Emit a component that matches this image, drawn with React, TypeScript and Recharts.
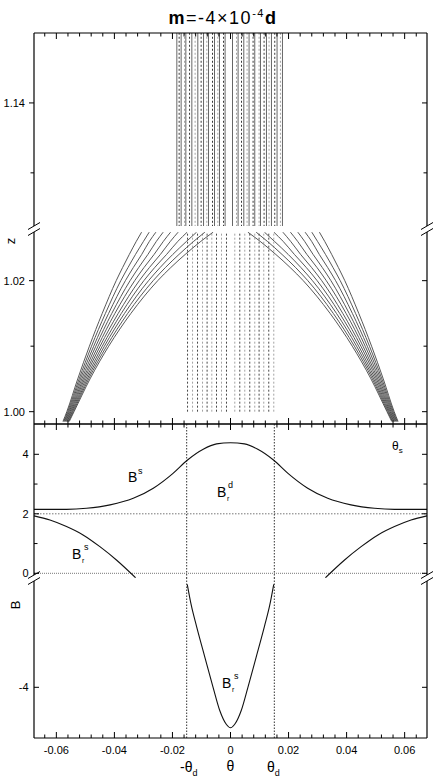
import React from "react";
import { LineChart, Line, XAxis, YAxis, ReferenceLine } from "recharts";

const WIDTH = 436;
const HEIGHT = 778;
const LEFT = 34;
const RIGHT = 427;
const X_AXIS_H = 20;
const FONT = "'Liberation Sans', Arial, Helvetica, sans-serif";

// theta axis (shared by all four stacked pieces)
const THETA_DOMAIN: [number, number] = [-0.0677, 0.0677];
const THETA_TICKS = [
  -0.064, -0.06, -0.056, -0.052, -0.048, -0.044, -0.04, -0.036, -0.032, -0.028, -0.024,
  -0.02, -0.016, -0.012, -0.008, -0.004, 0, 0.004, 0.008, 0.012, 0.016, 0.02, 0.024,
  0.028, 0.032, 0.036, 0.04, 0.044, 0.048, 0.052, 0.056, 0.06, 0.064,
];
const THETA_LABELS = [-0.06, -0.04, -0.02, 0, 0.02, 0.04, 0.06];
const THETA_D = 0.0151;

// z axis, broken in two
const Z_HIGH_DOMAIN: [number, number] = [1.1224, 1.15];
const Z_HIGH_TICKS = [1.13, 1.14];
const Z_HIGH_LABELS = [1.14];
const Z_LOW_DOMAIN: [number, number] = [0.99812, 1.02743];
const Z_LOW_TICKS = [1.0, 1.01, 1.02];
const Z_LOW_LABELS = [1.0, 1.02];

// B axis, broken in two
const B_HIGH_DOMAIN: [number, number] = [-0.158, 5.019];
const B_HIGH_TICKS = [0, 1, 2, 3, 4];
const B_HIGH_LABELS = [0, 2, 4];
const B_LOW_DOMAIN: [number, number] = [-5.704, -0.326];
const B_LOW_TICKS = [-4];
const B_LOW_LABELS = [-4];

// stellar field lines, left half (the right half is its mirror image)
const Z_LEVELS = [0.9985, 1.0, 1.005, 1.01, 1.015, 1.02, 1.022, 1.024, 1.026, 1.0274];
const FIELD_THETA = [
  [-0.05773, -0.05639, -0.05263, -0.04861, -0.0442, -0.03938, -0.03718, -0.03487, -0.03246, -0.03064],
  [-0.05749, -0.05611, -0.05215, -0.04788, -0.0431, -0.0378, -0.03532, -0.03274, -0.02998, -0.02802],
  [-0.05725, -0.05583, -0.0517, -0.04713, -0.042, -0.03621, -0.03349, -0.0306, -0.02795, -0.02571],
  [-0.05701, -0.05556, -0.05122, -0.0464, -0.0409, -0.0346, -0.03164, -0.02847, -0.02554, -0.0232],
  [-0.05676, -0.05528, -0.05074, -0.04565, -0.03983, -0.03301, -0.02981, -0.02633, -0.02313, -0.02065],
  [-0.05652, -0.05501, -0.05029, -0.04492, -0.03869, -0.03143, -0.02795, -0.02417, -0.02072, -0.01804],
  [-0.05628, -0.05473, -0.04981, -0.04417, -0.03762, -0.02985, -0.02613, -0.02203, -0.01814, -0.01494],
  [-0.05604, -0.05446, -0.04933, -0.04344, -0.03652, -0.02823, -0.02427, -0.0199, -0.01515, -0.0117],
  [-0.0558, -0.05418, -0.04888, -0.04268, -0.03542, -0.02664, -0.02244, -0.01776, -0.0127, -0.00885],
  [-0.05556, -0.05391, -0.0484, -0.04196, -0.03432, -0.02506, -0.02058, -0.01563, -0.01022, -0.00599],
];

// disk field lines (dashed verticals) in the lower z window
const DISK_LOW_THETA = [
  -0.0148, -0.01308, -0.01136, -0.00964, -0.00806, -0.00644, -0.00482, -0.0031, -0.00138,
  0.00148, 0.0032, 0.00492, 0.00664, 0.00836, 0.00985, 0.01146, 0.01318, 0.01491,
];
const DISK_LOW_Z = [1.0, 1.03];

// vertical lines in the upper z window
const UPPER_SOLID_THETA = [
  -0.01849, -0.01701, -0.01539, -0.01332, -0.01126, -0.00929, -0.00757, -0.00551, -0.00379, -0.00186,
  0.00069, 0.00262, 0.00458, 0.0064, 0.00836, 0.01033, 0.01239, 0.01411, 0.01604, 0.0179,
];
const UPPER_DASHED_THETA = [
  -0.01769, -0.01583, -0.01411, -0.01219, -0.01012, -0.00816, -0.0062, -0.00437, -0.00241,
  0.00207, 0.00379, 0.00571, 0.00778, 0.00985, 0.01157, 0.01329, 0.01525, 0.01721,
];
const UPPER_Z = [1.12, 1.16];

// B curves
const BS_THETA = [
  -0.0677, -0.0565, -0.0496, -0.0415, -0.0335, -0.0266, -0.0198, -0.0148, -0.0094, -0.0048, 0,
  0.0048, 0.0094, 0.0148, 0.0198, 0.0266, 0.0335, 0.0415, 0.0496, 0.0565, 0.0677,
];
const BS_VAL = [
  2.15, 2.15, 2.185, 2.3, 2.52, 2.86, 3.36, 3.81, 4.17, 4.35, 4.39,
  4.35, 4.17, 3.81, 3.36, 2.86, 2.52, 2.3, 2.185, 2.15, 2.15,
];
const BRS_LEFT_THETA = [-0.0677, -0.0622, -0.0565, -0.0508, -0.045, -0.0393, -0.0327];
const BRS_LEFT_VAL = [1.93, 1.79, 1.57, 1.29, 0.895, 0.447, -0.15];
const BRS_RIGHT_THETA = [0.0327, 0.0393, 0.045, 0.0508, 0.0565, 0.0622, 0.0677];
const BRS_RIGHT_VAL = [-0.15, 0.447, 0.895, 1.29, 1.57, 1.79, 1.93];
const BRS_CORE_THETA = [
  -0.0149, -0.0135, -0.0117, -0.0088, -0.006, -0.0037, -0.0014, 0,
  0.0014, 0.0037, 0.006, 0.0088, 0.0117, 0.0135, 0.0149,
];
const BRS_CORE_VAL = [
  -0.54, -1.25, -1.95, -3.0, -4.0, -4.78, -5.25, -5.36,
  -5.25, -4.78, -4.0, -3.0, -1.95, -1.25, -0.54,
];

type Pt = { t: number; v: number };
const zip = (ts: number[], vs: number[]): Pt[] => ts.map((t, i) => ({ t, v: vs[i] }));
const mirror = (pts: Pt[]): Pt[] => pts.map((p) => ({ t: -p.t, v: p.v })).reverse();
const vertical = (t: number, vs: number[]): Pt[] => vs.map((v) => ({ t, v }));
const has = (list: number[], v: number) => list.some((x) => Math.abs(x - v) < 1e-9);

function makeXTick(axisY: number, up: boolean, down: boolean, labels: boolean) {
  return (props: any) => {
    const { x, payload } = props;
    const major = has(THETA_LABELS, payload.value);
    const len = major ? 6 : 3.5;
    return (
      <g>
        {up && <line x1={x} x2={x} y1={axisY} y2={axisY - len} stroke="#000" strokeWidth={1} />}
        {down && <line x1={x} x2={x} y1={axisY} y2={axisY + len} stroke="#000" strokeWidth={1} />}
        {labels && major && (
          <text x={x} y={axisY + 16} textAnchor="middle" fontSize={11} fontFamily={FONT} fill="#000">
            {payload.value === 0 ? "0" : payload.value.toFixed(2)}
          </text>
        )}
      </g>
    );
  };
}

function makeYTick(side: "left" | "right", labels: number[], fmt: (v: number) => string, outward: boolean, labelX: number) {
  return (props: any) => {
    const { y, payload } = props;
    const major = has(labels, payload.value);
    const len = major ? 5 : 3.5;
    if (side === "right") {
      return <line x1={RIGHT} x2={RIGHT - len} y1={y} y2={y} stroke="#000" strokeWidth={1} />;
    }
    const x2 = outward ? LEFT - len : LEFT + len;
    return (
      <g>
        <line x1={LEFT} x2={x2} y1={y} y2={y} stroke="#000" strokeWidth={1} />
        {major && (
          <text x={labelX} y={y + 4} textAnchor="end" fontSize={11} fontFamily={FONT} fill="#000">
            {fmt(payload.value)}
          </text>
        )}
      </g>
    );
  };
}

const axisLine = { stroke: "#000", strokeWidth: 1.2 };

interface PanelProps {
  top: number;
  bottom: number;
  yDomain: [number, number];
  yTicks: number[];
  yLabels: number[];
  yFmt: (v: number) => string;
  leftOut: boolean;
  labelX: number;
  xOrient: "top" | "bottom";
  xUp: boolean;
  xDown: boolean;
  xLabels: boolean;
  children: React.ReactNode;
}

function Panel(p: PanelProps) {
  const xAxisY = p.xOrient === "top" ? p.top : p.bottom;
  const margin = {
    top: p.xOrient === "top" ? p.top - X_AXIS_H : p.top,
    bottom: p.xOrient === "bottom" ? HEIGHT - p.bottom - X_AXIS_H : HEIGHT - p.bottom,
    left: 0,
    right: 0,
  };
  return (
    <div style={{ position: "absolute", left: 0, top: 0 }}>
      <LineChart width={WIDTH} height={HEIGHT} margin={margin}>
        <XAxis
          type="number"
          dataKey="t"
          domain={THETA_DOMAIN}
          allowDataOverflow
          ticks={THETA_TICKS}
          interval={0}
          orientation={p.xOrient}
          height={X_AXIS_H}
          tickLine={false}
          axisLine={axisLine}
          tick={makeXTick(xAxisY, p.xUp, p.xDown, p.xLabels)}
        />
        <YAxis
          yAxisId="l"
          type="number"
          domain={p.yDomain}
          allowDataOverflow
          ticks={p.yTicks}
          interval={0}
          width={LEFT}
          tickLine={false}
          axisLine={axisLine}
          tick={makeYTick("left", p.yLabels, p.yFmt, p.leftOut, p.labelX)}
        />
        <YAxis
          yAxisId="r"
          orientation="right"
          type="number"
          domain={p.yDomain}
          allowDataOverflow
          ticks={p.yTicks}
          interval={0}
          width={WIDTH - RIGHT}
          tickLine={false}
          axisLine={axisLine}
          tick={makeYTick("right", p.yLabels, p.yFmt, false, 0)}
        />
        {p.children}
      </LineChart>
    </div>
  );
}

function series(key: string, data: Pt[], stroke: string, width: number, dash?: string, curve: "linear" | "monotone" = "linear") {
  return (
    <Line
      key={key}
      yAxisId="l"
      data={data}
      dataKey="v"
      type={curve}
      stroke={stroke}
      strokeWidth={width}
      strokeDasharray={dash}
      dot={false}
      activeDot={false}
      legendType="none"
      isAnimationActive={false}
    />
  );
}

const zFmt = (v: number) => v.toFixed(2);
const bFmt = (v: number) => String(v);

export default function App() {
  const fieldLeft = FIELD_THETA.map((ts) => zip(ts, Z_LEVELS));
  const fieldRight = fieldLeft.map(mirror);

  return (
    <div style={{ position: "absolute", left: 0, top: 0, width: WIDTH, height: HEIGHT, background: "#fff" }}>
      {/* upper z window */}
      <Panel top={33} bottom={226} yDomain={Z_HIGH_DOMAIN} yTicks={Z_HIGH_TICKS} yLabels={Z_HIGH_LABELS}
        yFmt={zFmt} leftOut labelX={25} xOrient="top" xUp={false} xDown xLabels={false}>
        {UPPER_SOLID_THETA.map((t, i) => series(`us${i}`, vertical(t, UPPER_Z), "#555", 0.9))}
        {UPPER_DASHED_THETA.map((t, i) =>
          series(`ud${i}`, vertical(t, UPPER_Z), i % 2 === 0 ? "#222" : "#999", 0.9, "2 2"))}
      </Panel>

      {/* lower z window */}
      <Panel top={232} bottom={424} yDomain={Z_LOW_DOMAIN} yTicks={Z_LOW_TICKS} yLabels={Z_LOW_LABELS}
        yFmt={zFmt} leftOut labelX={25} xOrient="bottom" xUp xDown={false} xLabels={false}>
        {DISK_LOW_THETA.map((t, i) =>
          series(`dl${i}`, vertical(t, DISK_LOW_Z), i % 2 === 0 ? "#333" : "#999", 0.9, "2 2"))}
        {fieldLeft.map((d, i) => series(`fl${i}`, d, "#444", 0.9, undefined, "monotone"))}
        {fieldRight.map((d, i) => series(`fr${i}`, d, "#444", 0.9, undefined, "monotone"))}
      </Panel>

      {/* upper B window */}
      <Panel top={424} bottom={578} yDomain={B_HIGH_DOMAIN} yTicks={B_HIGH_TICKS} yLabels={B_HIGH_LABELS}
        yFmt={bFmt} leftOut={false} labelX={28.5} xOrient="top" xUp={false} xDown xLabels={false}>
        <ReferenceLine yAxisId="l" y={2} stroke="#777" strokeDasharray="1.5 1.5" strokeWidth={1} />
        <ReferenceLine yAxisId="l" y={0} stroke="#777" strokeDasharray="1 1" strokeWidth={1} />
        <ReferenceLine yAxisId="l" x={-THETA_D} stroke="#333" strokeDasharray="1.5 1.5" strokeWidth={1} />
        <ReferenceLine yAxisId="l" x={THETA_D} stroke="#333" strokeDasharray="1.5 1.5" strokeWidth={1} />
        {series("bs", zip(BS_THETA, BS_VAL), "#111", 1.1, undefined, "monotone")}
        {series("brl", zip(BRS_LEFT_THETA, BRS_LEFT_VAL), "#111", 1.1, undefined, "monotone")}
        {series("brr", zip(BRS_RIGHT_THETA, BRS_RIGHT_VAL), "#111", 1.1, undefined, "monotone")}
      </Panel>

      {/* lower B window */}
      <Panel top={578} bottom={738} yDomain={B_LOW_DOMAIN} yTicks={B_LOW_TICKS} yLabels={B_LOW_LABELS}
        yFmt={bFmt} leftOut={false} labelX={28.5} xOrient="bottom" xUp xDown={false} xLabels>
        <ReferenceLine yAxisId="l" x={-THETA_D} stroke="#333" strokeDasharray="1.5 1.5" strokeWidth={1} />
        <ReferenceLine yAxisId="l" x={THETA_D} stroke="#333" strokeDasharray="1.5 1.5" strokeWidth={1} />
        {series("core", zip(BRS_CORE_THETA, BRS_CORE_VAL), "#111", 1.1, undefined, "monotone")}
      </Panel>

      <svg width={WIDTH} height={HEIGHT} style={{ position: "absolute", left: 0, top: 0, pointerEvents: "none" }}
        fontFamily={FONT} fill="#000">
        {/* title */}
        <text x={223} y={24} textAnchor="middle" fontSize={18} letterSpacing={1.5}>
          <tspan fontWeight="bold">m</tspan>
          <tspan>=-4×10</tspan>
          <tspan fontSize={11} dy={-7}>-4</tspan>
          <tspan fontWeight="bold" dy={7}>d</tspan>
        </text>

        {/* axis titles */}
        <text x={15} y={241} transform="rotate(-90 15 241)" textAnchor="middle" fontSize={13}>z</text>
        <text x={20} y={605} transform="rotate(-90 20 605)" textAnchor="middle" fontSize={13}>B</text>
        <text x={230.5} y={771} textAnchor="middle" fontSize={14}>θ</text>
        <text x={180} y={772} fontSize={14}>-θ<tspan fontSize={9} dy={4}>d</tspan></text>
        <text x={267} y={772} fontSize={14}>θ<tspan fontSize={9} dy={4}>d</tspan></text>

        {/* curve annotations */}
        <text x={392} y={450} fontSize={12}>θ<tspan fontSize={8} dy={3}>s</tspan></text>
        <text x={128} y={482} fontSize={14}>B</text>
        <text x={138} y={474} fontSize={9}>s</text>
        <text x={217} y={497} fontSize={14}>B</text>
        <text x={227} y={501} fontSize={7}>r</text>
        <text x={228} y={488} fontSize={9}>d</text>
        <text x={72} y={559} fontSize={14}>B</text>
        <text x={82} y={563} fontSize={7}>r</text>
        <text x={84} y={550} fontSize={9}>s</text>
        <text x={222} y={688} fontSize={14}>B</text>
        <text x={232} y={692} fontSize={7}>r</text>
        <text x={234} y={679} fontSize={9}>s</text>

        {/* axis break marks */}
        <rect x={30} y={575} width={8} height={6} fill="#fff" />
        <rect x={423} y={575} width={8} height={6} fill="#fff" />
        <g stroke="#000" strokeWidth={1}>
          <line x1={28} y1={229.5} x2={40} y2={222.5} />
          <line x1={28} y1={235.5} x2={40} y2={228.5} />
          <line x1={421} y1={229.5} x2={433} y2={222.5} />
          <line x1={421} y1={235.5} x2={433} y2={228.5} />
          <line x1={28} y1={578.5} x2={40} y2={571.5} />
          <line x1={28} y1={584.5} x2={40} y2={577.5} />
          <line x1={421} y1={578.5} x2={433} y2={571.5} />
          <line x1={421} y1={584.5} x2={433} y2={577.5} />
        </g>
      </svg>
    </div>
  );
}
